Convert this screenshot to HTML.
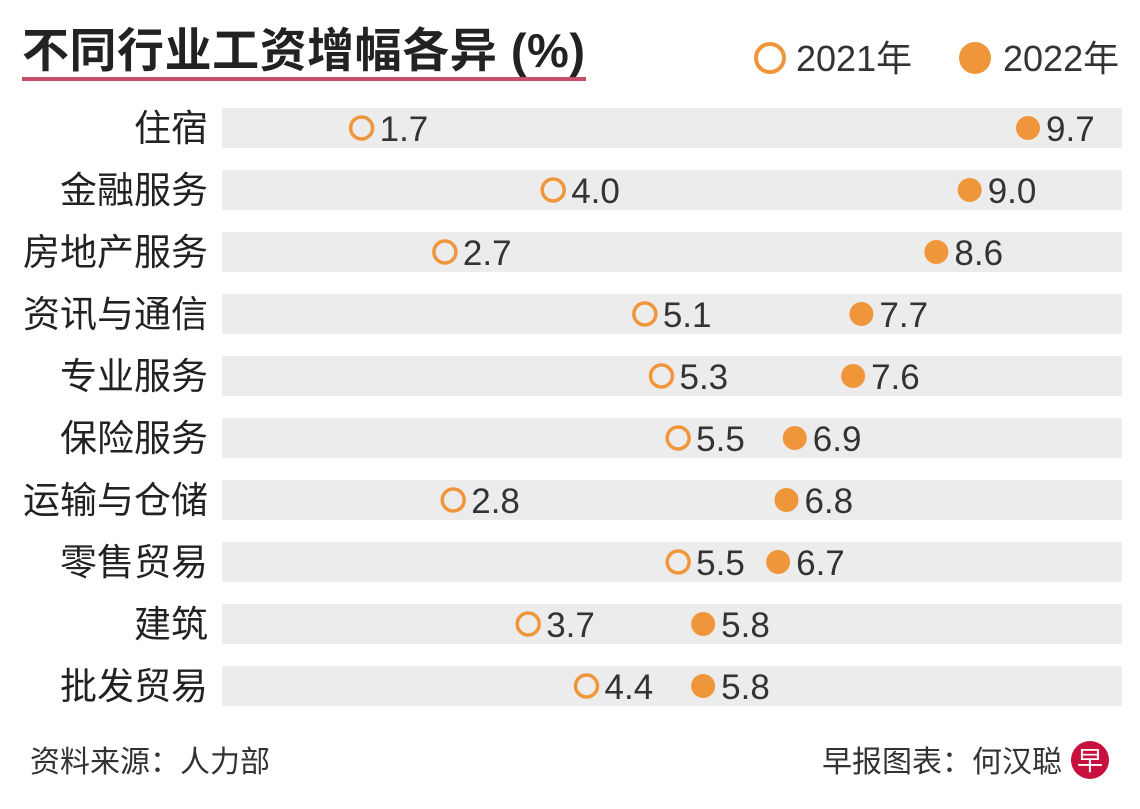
<!DOCTYPE html>
<html><head><meta charset="utf-8">
<style>
body{margin:0;background:#fff;}
#c{position:relative;width:1140px;height:809px;overflow:hidden;font-family:"Liberation Sans","Noto Sans CJK SC",sans-serif;}
</style></head>
<body>
<div id="c">
<svg id="s" width="1140" height="809" xmlns="http://www.w3.org/2000/svg">
<text x="22" y="67" font-size="47" font-weight="bold" fill="#222" textLength="563" font-family="Liberation Sans, Noto Sans CJK SC, sans-serif">不同行业工资增幅各异 (%)</text>
<rect x="22" y="77" width="564" height="4" fill="#c8506a"/>
<g>
<circle cx="770" cy="58" r="14" fill="none" stroke="#f0963a" stroke-width="4"/>
<text x="796" y="71" font-size="36" fill="#333" font-family="Liberation Sans, Noto Sans CJK SC, sans-serif">2021年</text>
</g>
<g>
<circle cx="975" cy="58" r="16" fill="#f0963a"/>
<text x="1003" y="71" font-size="36" fill="#333" font-family="Liberation Sans, Noto Sans CJK SC, sans-serif">2022年</text>
</g>
<g id="rows"></g>
<text x="30" y="772" font-size="30" fill="#333" font-family="Liberation Sans, Noto Sans CJK SC, sans-serif">资料来源：人力部</text>
<text x="822" y="772" font-size="30" fill="#333" font-family="Liberation Sans, Noto Sans CJK SC, sans-serif">早报图表：何汉聪</text>
<g>
<circle cx="1090" cy="760" r="19" fill="#c8103e"/>
<text x="1090" y="770" font-size="26" fill="#fff" text-anchor="middle" font-family="Noto Sans CJK SC, sans-serif">早</text>
</g>
</svg>
</div>
<script>
const categories=["住宿","金融服务","房地产服务","资讯与通信","专业服务","保险服务","运输与仓储","零售贸易","建筑","批发贸易"];
const values2021=[1.7,4.0,2.7,5.1,5.3,5.5,2.8,5.5,3.7,4.4];
const values2022=[9.7,9.0,8.6,7.7,7.6,6.9,6.8,6.7,5.8,5.8];
const NS="http://www.w3.org/2000/svg";
const x=v=>220+83.3*v;
const y=i=>128+62*i;
const g=document.getElementById('rows');
function mk(tag,attrs){const e=document.createElementNS(NS,tag);for(const k in attrs)e.setAttribute(k,attrs[k]);return e;}
const F="Liberation Sans, Noto Sans CJK SC, sans-serif";
categories.forEach((c,i)=>{
  const bar=mk('rect',{x:222,y:y(i)-20,width:900,height:40,fill:'#ececec'});
  
  
  g.appendChild(bar);
  const lab=mk('text',{x:208,y:y(i)+13,'font-size':37,fill:'#222','text-anchor':'end','font-family':F});
  lab.textContent=c;
  
  
  g.appendChild(lab);
  const a=values2021[i],b=values2022[i];
  const c1=mk('circle',{cx:x(a),cy:y(i),r:11,fill:'none',stroke:'#f0963a','stroke-width':3.5});
  
  
  g.appendChild(c1);
  const t1=mk('text',{x:x(a)+18,y:y(i)+13,'font-size':35,fill:'#333','font-family':F});
  t1.textContent=a.toFixed(1);
  
  
  g.appendChild(t1);
  const c2=mk('circle',{cx:x(b),cy:y(i),r:12,fill:'#f0963a'});
  
  
  g.appendChild(c2);
  const t2=mk('text',{x:x(b)+18,y:y(i)+13,'font-size':35,fill:'#333','font-family':F});
  t2.textContent=b.toFixed(1);
  
  
  g.appendChild(t2);
});
</script>
</body></html>
